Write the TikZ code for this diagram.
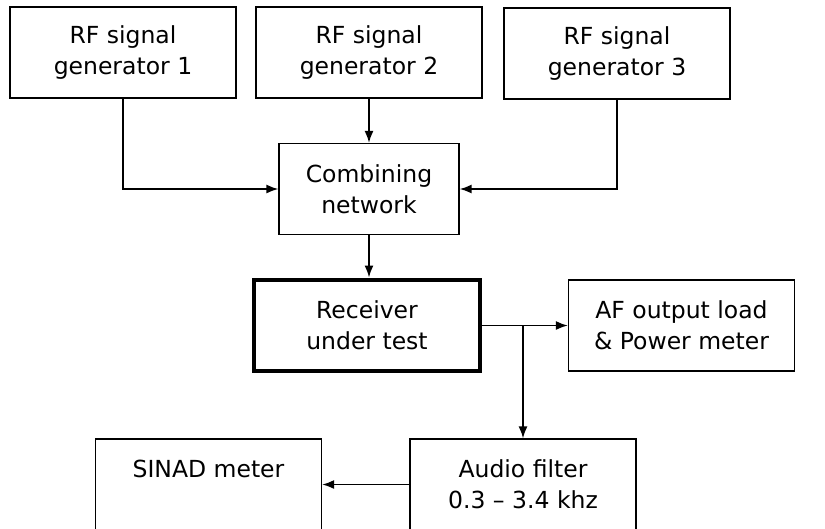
\documentclass[tikz,border=0pt]{standalone}
\usepackage{fontspec}
\setmainfont{DejaVu Sans}
\usetikzlibrary{arrows.meta}

\tikzset{
  blk/.style={draw, line width=1.3pt, minimum width=226pt, minimum height=91pt,
    align=center, font=\fontsize{23.5}{31}\selectfont},
  dut/.style={blk, line width=4pt},
  sig/.style={line width=1.6pt, -{Latex[length=12pt,width=9pt]}}
}

\begin{document}
\begin{tikzpicture}[x=1pt,y=-1pt]
				\useasboundingbox (0,0) rectangle (825,528);
				\node[blk] (gen1) at (123,52.5){RF signal\\generator 1};
				\node[blk] (gen2) at (369,52.5){RF signal\\generator 2};
				\node[blk] (gen3) at (617,53.5){RF signal\\generator 3};
				\node[blk, minimum width=180pt] (comb) at (369,189){Combining\\network};
				\node[dut] (rx) at (367,325){Receiver\\under test};
				\node[blk] (afload) at (681.5,325.5){AF output load\\\& Power meter};
				\node[blk] (filt) at (523,484.5){Audio filter\\0.3 – 3.4 khz};
				\node[blk] (sinad) at (208.5,484.5){SINAD meter\\~};
				\coordinate (tap) at (523,325.5);
				\draw[sig] (gen1.south) |- (comb.west);
				\draw[sig] (gen2.south) -- (comb.north);
				\draw[sig] (gen3.south) |- (comb.east);
				\draw[sig] (comb.south) -- (comb.south |- rx.north);
				\draw[sig] (rx.east |- afload.west) -- (afload.west);
				\draw[sig] (tap) -- (filt.north);
				\draw[sig] (filt.west) -- (sinad.east);
			\end{tikzpicture}
\end{document}
